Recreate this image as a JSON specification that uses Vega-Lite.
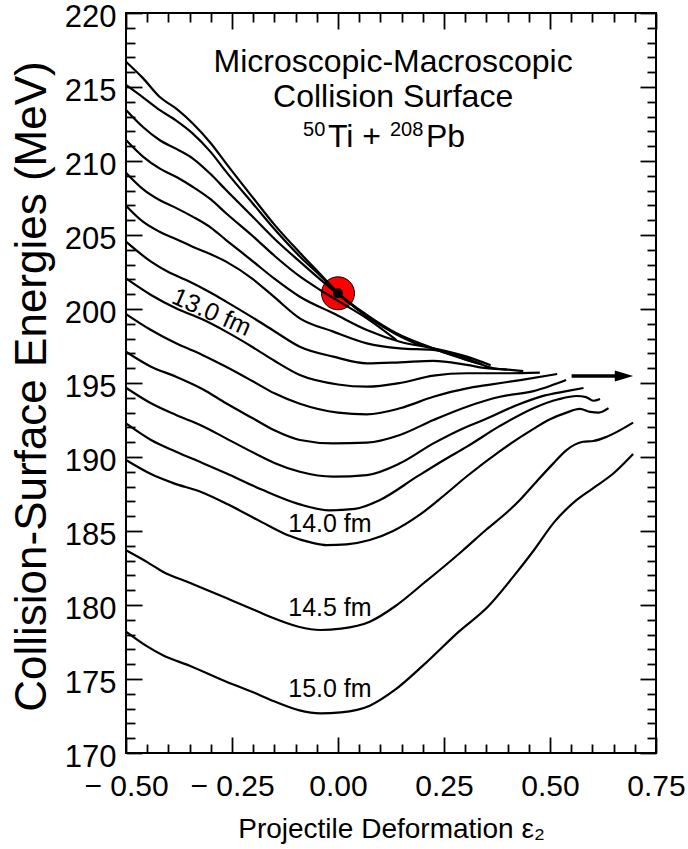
{
  "$schema": "https://vega.github.io/schema/vega-lite/v6.json",
  "width": 530,
  "height": 740,
  "autosize": {"type": "none"},
  "padding": {"left": 126, "top": 13, "right": 32, "bottom": 96},
  "background": "white",
  "config": {
    "view": {"stroke": "black", "strokeWidth": 2},
    "font": "Liberation Sans",
    "axis": {"domain": false, "grid": false, "tickColor": "black", "tickWidth": 1.8, "labelColor": "black", "titleColor": "black", "labelFont": "Liberation Sans", "titleFont": "Liberation Sans", "titleFontWeight": "normal", "labelBound": false, "labelOverlap": false, "labelFlush": false}
  },
  "resolve": {"axis": {"x": "independent", "y": "independent"}},
  "layer": [
    {
      "data": {"values": [{"x": 0.0, "y": 201.06}]},
      "mark": {"type": "point", "shape": "circle", "filled": true, "size": 1089, "fill": "#ff0000", "stroke": "black", "strokeWidth": 1, "opacity": 1},
      "encoding": {
        "x": {"field": "x", "type": "quantitative", "scale": {"domain": [-0.5, 0.75], "nice": false, "zero": false},
          "axis": {"orient": "top", "labels": false, "title": null,
            "values": [-0.5,-0.45,-0.4,-0.35,-0.3,-0.25,-0.2,-0.15,-0.1,-0.05,0,0.05,0.1,0.15,0.2,0.25,0.3,0.35,0.4,0.45,0.5,0.55,0.6,0.65,0.7,0.75],
            "tickSize": {"condition": {"test": "abs(datum.value*4-round(datum.value*4))<0.001", "value": -16}, "value": -9}}},
        "y": {"field": "y", "type": "quantitative", "scale": {"domain": [170, 220], "nice": false, "zero": false},
          "axis": {"orient": "right", "labels": false, "title": null,
            "values": [170,171,172,173,174,175,176,177,178,179,180,181,182,183,184,185,186,187,188,189,190,191,192,193,194,195,196,197,198,199,200,201,202,203,204,205,206,207,208,209,210,211,212,213,214,215,216,217,218,219,220],
            "tickSize": {"condition": {"test": "datum.value % 5 == 0", "value": -16}, "value": -9}}}
      }
    },
    {
      "data": {"values": [
        {"c":"11.6","x":-0.5,"y":216.71},{"c":"11.6","x":-0.46,"y":215.6},{"c":"11.6","x":-0.421,"y":214.34},{"c":"11.6","x":-0.38,"y":213.5},{"c":"11.6","x":-0.343,"y":212.55},{"c":"11.6","x":-0.3,"y":211.2},{"c":"11.6","x":-0.264,"y":209.84},{"c":"11.6","x":-0.2,"y":207.5},{"c":"11.6","x":-0.15,"y":205.7},{"c":"11.6","x":-0.09,"y":203.8},{"c":"11.6","x":-0.04,"y":202.3},{"c":"11.6","x":0,"y":201.1},{"c":"11.6","x":0.068,"y":199.6},{"c":"11.6","x":0.138,"y":198.36},{"c":"11.6","x":0.225,"y":197.34},{"c":"11.6","x":0.28,"y":196.8},{"c":"11.6","x":0.339,"y":196.26},
        {"c":"11.8","x":-0.5,"y":215.14},{"c":"11.8","x":-0.46,"y":214.3},{"c":"11.8","x":-0.421,"y":213.45},{"c":"11.8","x":-0.38,"y":212.7},{"c":"11.8","x":-0.343,"y":211.87},{"c":"11.8","x":-0.3,"y":210.6},{"c":"11.8","x":-0.264,"y":209.28},{"c":"11.8","x":-0.2,"y":207.1},{"c":"11.8","x":-0.15,"y":205.4},{"c":"11.8","x":-0.09,"y":203.55},{"c":"11.8","x":-0.04,"y":202.2},{"c":"11.8","x":0,"y":201.05},{"c":"11.8","x":0.068,"y":199.55},{"c":"11.8","x":0.138,"y":198.32},{"c":"11.8","x":0.225,"y":197.32},{"c":"11.8","x":0.28,"y":196.78},{"c":"11.8","x":0.33,"y":196.32},
        {"c":"12.0","x":-0.5,"y":213.45},{"c":"12.0","x":-0.46,"y":212.3},{"c":"12.0","x":-0.421,"y":211.42},{"c":"12.0","x":-0.38,"y":210.8},{"c":"12.0","x":-0.343,"y":210.18},{"c":"12.0","x":-0.3,"y":209.1},{"c":"12.0","x":-0.264,"y":208.04},{"c":"12.0","x":-0.2,"y":206.2},{"c":"12.0","x":-0.15,"y":204.75},{"c":"12.0","x":-0.09,"y":203.2},{"c":"12.0","x":-0.04,"y":201.95},{"c":"12.0","x":0,"y":201.0},{"c":"12.0","x":0.068,"y":199.5},{"c":"12.0","x":0.138,"y":198.28},{"c":"12.0","x":0.197,"y":197.5},
        {"c":"12.2","x":-0.5,"y":211.42},{"c":"12.2","x":-0.46,"y":210.3},{"c":"12.2","x":-0.421,"y":209.5},{"c":"12.2","x":-0.38,"y":208.9},{"c":"12.2","x":-0.343,"y":208.26},{"c":"12.2","x":-0.3,"y":207.4},{"c":"12.2","x":-0.264,"y":206.47},{"c":"12.2","x":-0.2,"y":204.9},{"c":"12.2","x":-0.15,"y":203.6},{"c":"12.2","x":-0.09,"y":202.2},{"c":"12.2","x":-0.04,"y":201.25},{"c":"12.2","x":0,"y":200.55},{"c":"12.2","x":0.068,"y":199.37},{"c":"12.2","x":0.138,"y":197.9},
        {"c":"12.4","x":-0.5,"y":209.21},{"c":"12.4","x":-0.46,"y":208.1},{"c":"12.4","x":-0.421,"y":207.36},{"c":"12.4","x":-0.38,"y":206.8},{"c":"12.4","x":-0.343,"y":206.24},{"c":"12.4","x":-0.3,"y":205.5},{"c":"12.4","x":-0.264,"y":204.66},{"c":"12.4","x":-0.2,"y":203.2},{"c":"12.4","x":-0.15,"y":202.05},{"c":"12.4","x":-0.09,"y":200.83},{"c":"12.4","x":-0.011,"y":199.71},{"c":"12.4","x":0.068,"y":198.58},{"c":"12.4","x":0.146,"y":197.79},{"c":"12.4","x":0.225,"y":197.34},{"c":"12.4","x":0.304,"y":196.78},{"c":"12.4","x":0.36,"y":196.2},
        {"c":"12.6","x":-0.5,"y":206.98},{"c":"12.6","x":-0.46,"y":205.9},{"c":"12.6","x":-0.421,"y":205.22},{"c":"12.6","x":-0.38,"y":204.7},{"c":"12.6","x":-0.343,"y":204.21},{"c":"12.6","x":-0.3,"y":203.7},{"c":"12.6","x":-0.264,"y":203.2},{"c":"12.6","x":-0.2,"y":202.0},{"c":"12.6","x":-0.15,"y":200.8},{"c":"12.6","x":-0.09,"y":199.37},{"c":"12.6","x":-0.011,"y":198.47},{"c":"12.6","x":0.068,"y":197.68},{"c":"12.6","x":0.146,"y":197.34},{"c":"12.6","x":0.225,"y":197.23},{"c":"12.6","x":0.288,"y":196.85},{"c":"12.6","x":0.33,"y":196.35},{"c":"12.6","x":0.36,"y":196.05},{"c":"12.6","x":0.398,"y":195.9},
        {"c":"12.8","x":-0.5,"y":204.55},{"c":"12.8","x":-0.441,"y":203.2},{"c":"12.8","x":-0.4,"y":202.5},{"c":"12.8","x":-0.358,"y":201.96},{"c":"12.8","x":-0.3,"y":201.1},{"c":"12.8","x":-0.264,"y":200.5},{"c":"12.8","x":-0.2,"y":199.4},{"c":"12.8","x":-0.15,"y":198.5},{"c":"12.8","x":-0.09,"y":197.45},{"c":"12.8","x":-0.011,"y":196.78},{"c":"12.8","x":0.068,"y":196.33},{"c":"12.8","x":0.146,"y":196.4},{"c":"12.8","x":0.225,"y":196.5},{"c":"12.8","x":0.304,"y":196.22},{"c":"12.8","x":0.35,"y":196.0},{"c":"12.8","x":0.4,"y":195.9},{"c":"12.8","x":0.437,"y":195.81},
        {"c":"13.0","x":-0.5,"y":202.07},{"c":"13.0","x":-0.441,"y":200.95},{"c":"13.0","x":-0.382,"y":200.05},{"c":"13.0","x":-0.32,"y":199.3},{"c":"13.0","x":-0.264,"y":198.47},{"c":"13.0","x":-0.2,"y":197.4},{"c":"13.0","x":-0.15,"y":196.5},{"c":"13.0","x":-0.09,"y":195.54},{"c":"13.0","x":0,"y":194.9},{"c":"13.0","x":0.068,"y":194.75},{"c":"13.0","x":0.146,"y":195.0},{"c":"13.0","x":0.225,"y":195.5},{"c":"13.0","x":0.304,"y":195.66},{"c":"13.0","x":0.4,"y":195.66},{"c":"13.0","x":0.476,"y":195.7},
        {"c":"13.2","x":-0.5,"y":199.66},{"c":"13.2","x":-0.441,"y":198.58},{"c":"13.2","x":-0.382,"y":197.68},{"c":"13.2","x":-0.32,"y":196.9},{"c":"13.2","x":-0.264,"y":196.1},{"c":"13.2","x":-0.2,"y":195.1},{"c":"13.2","x":-0.15,"y":194.3},{"c":"13.2","x":-0.09,"y":193.6},{"c":"13.2","x":0,"y":193.0},{"c":"13.2","x":0.068,"y":192.88},{"c":"13.2","x":0.146,"y":193.29},{"c":"13.2","x":0.225,"y":194.07},{"c":"13.2","x":0.304,"y":194.64},{"c":"13.2","x":0.351,"y":194.86},{"c":"13.2","x":0.43,"y":195.2},{"c":"13.2","x":0.517,"y":195.61},
        {"c":"13.4","x":-0.5,"y":197.11},{"c":"13.4","x":-0.441,"y":196.1},{"c":"13.4","x":-0.382,"y":195.43},{"c":"13.4","x":-0.32,"y":194.6},{"c":"13.4","x":-0.264,"y":193.63},{"c":"13.4","x":-0.2,"y":192.6},{"c":"13.4","x":-0.15,"y":191.8},{"c":"13.4","x":-0.09,"y":191.15},{"c":"13.4","x":-0.011,"y":190.92},{"c":"13.4","x":0.068,"y":190.97},{"c":"13.4","x":0.146,"y":191.49},{"c":"13.4","x":0.225,"y":192.5},{"c":"13.4","x":0.304,"y":193.4},{"c":"13.4","x":0.382,"y":194.07},{"c":"13.4","x":0.461,"y":194.45},{"c":"13.4","x":0.5,"y":194.8},{"c":"13.4","x":0.538,"y":195.2},
        {"c":"13.6","x":-0.5,"y":194.68},{"c":"13.6","x":-0.441,"y":193.63},{"c":"13.6","x":-0.382,"y":192.84},{"c":"13.6","x":-0.32,"y":192.1},{"c":"13.6","x":-0.264,"y":191.26},{"c":"13.6","x":-0.2,"y":190.3},{"c":"13.6","x":-0.15,"y":189.6},{"c":"13.6","x":-0.09,"y":189.0},{"c":"13.6","x":-0.011,"y":188.67},{"c":"13.6","x":0.068,"y":188.78},{"c":"13.6","x":0.146,"y":189.57},{"c":"13.6","x":0.225,"y":190.92},{"c":"13.6","x":0.304,"y":192.05},{"c":"13.6","x":0.343,"y":192.5},{"c":"13.6","x":0.421,"y":193.5},{"c":"13.6","x":0.48,"y":194.1},{"c":"13.6","x":0.539,"y":194.45},{"c":"13.6","x":0.579,"y":194.66},
        {"c":"13.8","x":-0.5,"y":192.27},{"c":"13.8","x":-0.441,"y":191.15},{"c":"13.8","x":-0.382,"y":190.36},{"c":"13.8","x":-0.32,"y":189.6},{"c":"13.8","x":-0.264,"y":188.9},{"c":"13.8","x":-0.18,"y":187.8},{"c":"13.8","x":-0.09,"y":186.8},{"c":"13.8","x":-0.02,"y":186.4},{"c":"13.8","x":0.04,"y":186.5},{"c":"13.8","x":0.099,"y":187.1},{"c":"13.8","x":0.186,"y":188.67},{"c":"13.8","x":0.25,"y":189.8},{"c":"13.8","x":0.304,"y":190.7},{"c":"13.8","x":0.382,"y":192.1},{"c":"13.8","x":0.461,"y":193.3},{"c":"13.8","x":0.52,"y":193.9},{"c":"13.8","x":0.563,"y":194.12},{"c":"13.8","x":0.585,"y":194.05},{"c":"13.8","x":0.602,"y":193.8},{"c":"13.8","x":0.618,"y":193.92},
        {"c":"14.0","x":-0.5,"y":189.8},{"c":"14.0","x":-0.441,"y":188.85},{"c":"14.0","x":-0.39,"y":188.25},{"c":"14.0","x":-0.32,"y":187.6},{"c":"14.0","x":-0.26,"y":186.8},{"c":"14.0","x":-0.18,"y":185.6},{"c":"14.0","x":-0.121,"y":184.75},{"c":"14.0","x":-0.06,"y":184.2},{"c":"14.0","x":-0.027,"y":184.05},{"c":"14.0","x":0.02,"y":184.1},{"c":"14.0","x":0.075,"y":184.39},{"c":"14.0","x":0.13,"y":185.0},{"c":"14.0","x":0.193,"y":186.1},{"c":"14.0","x":0.25,"y":187.4},{"c":"14.0","x":0.304,"y":188.7},{"c":"14.0","x":0.382,"y":190.4},{"c":"14.0","x":0.461,"y":191.9},{"c":"14.0","x":0.5,"y":192.55},{"c":"14.0","x":0.539,"y":193.0},{"c":"14.0","x":0.57,"y":193.25},{"c":"14.0","x":0.595,"y":193.05},{"c":"14.0","x":0.615,"y":193.0},{"c":"14.0","x":0.638,"y":193.3},
        {"c":"14.5","x":-0.5,"y":183.7},{"c":"14.5","x":-0.45,"y":182.9},{"c":"14.5","x":-0.413,"y":182.25},{"c":"14.5","x":-0.35,"y":181.5},{"c":"14.5","x":-0.262,"y":180.45},{"c":"14.5","x":-0.2,"y":179.7},{"c":"14.5","x":-0.16,"y":179.2},{"c":"14.5","x":-0.093,"y":178.53},{"c":"14.5","x":-0.042,"y":178.31},{"c":"14.5","x":0.007,"y":178.4},{"c":"14.5","x":0.075,"y":178.87},{"c":"14.5","x":0.134,"y":179.9},{"c":"14.5","x":0.202,"y":181.47},{"c":"14.5","x":0.25,"y":182.6},{"c":"14.5","x":0.295,"y":183.7},{"c":"14.5","x":0.35,"y":185.1},{"c":"14.5","x":0.4,"y":186.3},{"c":"14.5","x":0.429,"y":187.1},{"c":"14.5","x":0.47,"y":188.4},{"c":"14.5","x":0.508,"y":189.57},{"c":"14.5","x":0.539,"y":190.47},{"c":"14.5","x":0.578,"y":191.03},{"c":"14.5","x":0.602,"y":191.08},{"c":"14.5","x":0.634,"y":191.37},{"c":"14.5","x":0.696,"y":192.32},
        {"c":"15.0","x":-0.5,"y":178.2},{"c":"15.0","x":-0.45,"y":177.2},{"c":"15.0","x":-0.413,"y":176.6},{"c":"15.0","x":-0.35,"y":175.9},{"c":"15.0","x":-0.262,"y":174.8},{"c":"15.0","x":-0.2,"y":174.1},{"c":"15.0","x":-0.16,"y":173.6},{"c":"15.0","x":-0.093,"y":172.9},{"c":"15.0","x":-0.042,"y":172.68},{"c":"15.0","x":0.007,"y":172.75},{"c":"15.0","x":0.075,"y":173.2},{"c":"15.0","x":0.134,"y":174.26},{"c":"15.0","x":0.202,"y":175.95},{"c":"15.0","x":0.285,"y":178.2},{"c":"15.0","x":0.354,"y":179.9},{"c":"15.0","x":0.413,"y":181.9},{"c":"15.0","x":0.462,"y":183.7},{"c":"15.0","x":0.51,"y":185.6},{"c":"15.0","x":0.563,"y":187.1},{"c":"15.0","x":0.602,"y":187.9},{"c":"15.0","x":0.65,"y":188.9},{"c":"15.0","x":0.696,"y":190.2}
      ]},
      "mark": {"type": "line", "color": "black", "strokeWidth": 2.2, "interpolate": "monotone"},
      "encoding": {
        "x": {"field": "x", "type": "quantitative", "scale": {"domain": [-0.5, 0.75], "nice": false, "zero": false},
          "axis": {"orient": "bottom",
            "values": [-0.5,-0.45,-0.4,-0.35,-0.3,-0.25,-0.2,-0.15,-0.1,-0.05,0,0.05,0.1,0.15,0.2,0.25,0.3,0.35,0.4,0.45,0.5,0.55,0.6,0.65,0.7,0.75],
            "tickSize": {"condition": {"test": "abs(datum.value*4-round(datum.value*4))<0.001", "value": -16}, "value": -9},
            "labelExpr": "abs(datum.value*4-round(datum.value*4))<0.001 ? (datum.value < -0.001 ? '\u2212 ' + format(-datum.value, '.2f') : format(abs(datum.value), '.2f')) : ''",
            "labelFontSize": 30, "labelPadding": 58, "labelBaseline": "alphabetic",
            "title": "Projectile Deformation \u03b5\u2082", "titleFontSize": 28, "titleX": 265, "titleY": 84, "titleAlign": "center", "titleBaseline": "alphabetic"}},
        "y": {"field": "y", "type": "quantitative", "scale": {"domain": [170, 220], "nice": false, "zero": false},
          "axis": {"orient": "left",
            "values": [170,171,172,173,174,175,176,177,178,179,180,181,182,183,184,185,186,187,188,189,190,191,192,193,194,195,196,197,198,199,200,201,202,203,204,205,206,207,208,209,210,211,212,213,214,215,216,217,218,219,220],
            "tickSize": {"condition": {"test": "datum.value % 5 == 0", "value": -16}, "value": -9},
            "labelExpr": "datum.value % 5 == 0 ? format(datum.value, 'd') : ''",
            "labelFontSize": 31, "labelPadding": 26, "labelBaseline": "middle", "labelAlign": "right", "labelOffset": 4,
            "title": "Collision-Surface Energies (MeV)", "titleFontSize": 44, "titleX": -94, "titleY": 373, "titleAngle": -90, "titleAlign": "center", "titleBaseline": "middle"}},
        "detail": {"field": "c", "type": "nominal"}
      }
    },
    {
      "data": {"values": [{"x": 0.0, "y": 201.06}]},
      "mark": {"type": "point", "shape": "circle", "filled": true, "size": 100, "fill": "black", "opacity": 1},
      "encoding": {
        "x": {"field": "x", "type": "quantitative", "axis": null},
        "y": {"field": "y", "type": "quantitative", "axis": null}
      }
    },
    {
      "data": {"values": [{"t": "14.0 fm", "x": -0.019, "y": 185.45}, {"t": "14.5 fm", "x": -0.019, "y": 179.83}, {"t": "15.0 fm", "x": -0.019, "y": 174.32}]},
      "mark": {"type": "text", "fontSize": 25, "font": "Liberation Sans", "align": "center", "baseline": "middle", "color": "black"},
      "encoding": {
        "x": {"field": "x", "type": "quantitative", "axis": null},
        "y": {"field": "y", "type": "quantitative", "axis": null},
        "text": {"field": "t"}
      }
    },
    {
      "data": {"values": [{"t": "13.0 fm", "x": -0.298, "y": 199.78}]},
      "mark": {"type": "text", "fontSize": 25, "font": "Liberation Sans", "align": "center", "baseline": "middle", "color": "black", "angle": 24},
      "encoding": {
        "x": {"field": "x", "type": "quantitative", "axis": null},
        "y": {"field": "y", "type": "quantitative", "axis": null},
        "text": {"field": "t"}
      }
    },
    {
      "data": {"values": [{"t": "Microscopic-Macroscopic", "x": 0.13, "y": 216.03}, {"t": "Collision Surface", "x": 0.13, "y": 213.67}]},
      "mark": {"type": "text", "fontSize": 32, "font": "Liberation Sans", "align": "center", "baseline": "alphabetic", "color": "black"},
      "encoding": {
        "x": {"field": "x", "type": "quantitative", "axis": null},
        "y": {"field": "y", "type": "quantitative", "axis": null},
        "text": {"field": "t"}
      }
    },
    {
      "data": {"values": [{"t": "50", "x": -0.0825, "y": 211.69}, {"t": "208", "x": 0.1226, "y": 211.69}]},
      "mark": {"type": "text", "fontSize": 20, "font": "Liberation Sans", "align": "left", "baseline": "alphabetic", "color": "black"},
      "encoding": {
        "x": {"field": "x", "type": "quantitative", "axis": null},
        "y": {"field": "y", "type": "quantitative", "axis": null},
        "text": {"field": "t"}
      }
    },
    {
      "data": {"values": [{"t": "Ti + ", "x": -0.0236, "y": 210.97}, {"t": "Pb", "x": 0.2075, "y": 210.97}]},
      "mark": {"type": "text", "fontSize": 32, "font": "Liberation Sans", "align": "left", "baseline": "alphabetic", "color": "black"},
      "encoding": {
        "x": {"field": "x", "type": "quantitative", "axis": null},
        "y": {"field": "y", "type": "quantitative", "axis": null},
        "text": {"field": "t"}
      }
    },
    {
      "data": {"values": [{"x": 0.551, "x2": 0.655, "y": 195.47}]},
      "mark": {"type": "rule", "color": "black", "strokeWidth": 3.5},
      "encoding": {
        "x": {"field": "x", "type": "quantitative", "axis": null},
        "x2": {"field": "x2"},
        "y": {"field": "y", "type": "quantitative", "axis": null}
      }
    },
    {
      "data": {"values": [{"x": 0.6745, "y": 195.47}]},
      "mark": {"type": "point", "shape": "M-1,-0.6L1,0L-1,0.6Z", "filled": true, "size": 335, "fill": "black", "strokeWidth": 0, "opacity": 1},
      "encoding": {
        "x": {"field": "x", "type": "quantitative", "axis": null},
        "y": {"field": "y", "type": "quantitative", "axis": null}
      }
    }
  ]
}
